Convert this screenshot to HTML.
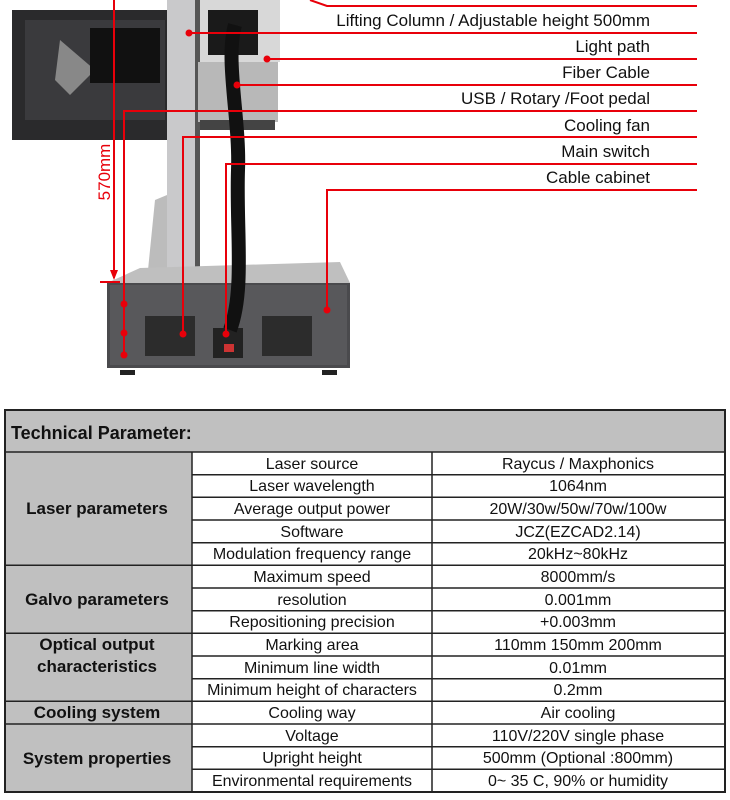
<!DOCTYPE html>
<html><head><style>
html,body{margin:0;padding:0;background:#fff;}
svg{display:block;font-family:"Liberation Sans",Arial,sans-serif;}
</style></head><body>
<svg width="730" height="800" viewBox="0 0 730 800" xmlns="http://www.w3.org/2000/svg">
<!-- machine photo approximation -->
<!-- monitor -->
<rect x="12" y="10" width="155" height="130" fill="#2a2a2c"/>
<rect x="25" y="20" width="140" height="100" fill="#3a3a3d"/>
<path d="M60 40 L95 70 L70 95 L55 80 Z" fill="#888"/>
<rect x="90" y="28" width="70" height="55" fill="#111"/>
<!-- column -->
<rect x="167" y="0" width="33" height="275" fill="#c9c9cb"/>
<rect x="195" y="0" width="5" height="275" fill="#555"/>
<path d="M148 270 L155 200 L167 195 L167 275 Z" fill="#bcbcbc"/>
<rect x="142" y="270" width="75" height="8" fill="#333"/>
<!-- laser head -->
<rect x="200" y="0" width="80" height="62" fill="#d8d8d8"/>
<rect x="208" y="10" width="50" height="45" fill="#1a1a1a"/>
<rect x="198" y="62" width="80" height="60" fill="#b8b8b8"/>
<rect x="200" y="120" width="75" height="10" fill="#444"/>
<!-- base -->
<path d="M107 283 L140 268 L340 262 L350 283 Z" fill="#bfbfbf"/>
<rect x="107" y="283" width="243" height="85" fill="#4a4a4d"/>
<rect x="110" y="285" width="237" height="80" fill="#58585b"/>
<rect x="145" y="316" width="50" height="40" fill="#2c2c2c"/>
<rect x="262" y="316" width="50" height="40" fill="#2c2c2c"/>
<rect x="213" y="328" width="30" height="30" fill="#222"/>
<rect x="224" y="344" width="10" height="8" fill="#c33"/>
<rect x="120" y="370" width="15" height="5" fill="#222"/><rect x="322" y="370" width="15" height="5" fill="#222"/>
<!-- cable -->
<path d="M235 25 C225 60 240 120 238 170 C236 230 245 290 230 330" stroke="#111" stroke-width="14" fill="none"/>
<!-- red annotation lines -->
<g stroke="#e8000a" stroke-width="2" fill="none">
<path d="M310 0 L327 6 L697 6"/>
<path d="M189 33 L697 33"/>
<path d="M267 59 L697 59"/>
<path d="M237 85 L697 85"/>
<path d="M124 355 L124 111 L697 111"/>
<path d="M183 334 L183 137 L697 137"/>
<path d="M226 334 L226 164 L697 164"/>
<path d="M327 310 L327 190 L697 190"/>
<path d="M114 0 L114 278"/>
<path d="M100 282 L120 282"/>
</g>
<path d="M110 270 L114 280 L118 270 Z" fill="#e8000a"/>
<g fill="#e8000a">
<circle cx="189" cy="33" r="3.5"/><circle cx="267" cy="59" r="3.5"/><circle cx="237" cy="85" r="3.5"/>
<circle cx="124" cy="304" r="3.5"/><circle cx="124" cy="333" r="3.5"/><circle cx="124" cy="355" r="3.5"/>
<circle cx="183" cy="334" r="3.5"/><circle cx="226" cy="334" r="3.5"/><circle cx="327" cy="310" r="3.5"/>
</g>
<text x="110" y="172" transform="rotate(-90 110 172)" text-anchor="middle" fill="#e8000a" font-size="17">570mm</text>
<g font-size="17" fill="#111" text-anchor="end">
<text x="650" y="26">Lifting Column / Adjustable height 500mm</text>
<text x="650" y="52">Light path</text>
<text x="650" y="78">Fiber Cable</text>
<text x="650" y="104">USB / Rotary /Foot pedal</text>
<text x="650" y="131">Cooling fan</text>
<text x="650" y="157">Main switch</text>
<text x="650" y="183">Cable cabinet</text>
</g>
<!-- table -->
<rect x="5" y="410" width="720" height="42" fill="#c0c0c0"/>
<rect x="5" y="452" width="187" height="340" fill="#c0c0c0"/>
<text x="11" y="439" font-size="18" font-weight="bold" fill="#111">Technical Parameter:</text>
<g stroke="#222" stroke-width="1.5" fill="none">
<rect x="5" y="410" width="720" height="382" stroke-width="2"/>
<line x1="5" y1="452" x2="725" y2="452"/>
<line x1="192" y1="452" x2="192" y2="792"/>
<line x1="432" y1="452" x2="432" y2="792"/>
<!-- full-width group separators -->
<line x1="5" y1="565.3" x2="725" y2="565.3"/>
<line x1="5" y1="633.3" x2="725" y2="633.3"/>
<line x1="5" y1="701.3" x2="725" y2="701.3"/>
<line x1="5" y1="724" x2="725" y2="724"/>
<!-- inner row lines -->
<path d="M192 474.7H725M192 497.3H725M192 520H725M192 542.7H725M192 588H725M192 610.7H725M192 656H725M192 678.7H725M192 746.7H725M192 769.3H725"/>
</g>
<g font-size="16" fill="#111" text-anchor="middle">
<text x="312" y="469">Laser source</text><text x="578" y="469">Raycus / Maxphonics</text>
<text x="312" y="491">Laser wavelength</text><text x="578" y="491">1064nm</text>
<text x="312" y="514">Average output power</text><text x="578" y="514">20W/30w/50w/70w/100w</text>
<text x="312" y="537">Software</text><text x="578" y="537">JCZ(EZCAD2.14)</text>
<text x="312" y="559">Modulation frequency range</text><text x="578" y="559">20kHz~80kHz</text>
<text x="312" y="582">Maximum speed</text><text x="578" y="582">8000mm/s</text>
<text x="312" y="605">resolution</text><text x="578" y="605">0.001mm</text>
<text x="312" y="627">Repositioning precision</text><text x="578" y="627">+0.003mm</text>
<text x="312" y="650">Marking area</text><text x="578" y="650">110mm 150mm 200mm</text>
<text x="312" y="673">Minimum line width</text><text x="578" y="673">0.01mm</text>
<text x="312" y="695">Minimum height of characters</text><text x="578" y="695">0.2mm</text>
<text x="312" y="718">Cooling way</text><text x="578" y="718">Air cooling</text>
<text x="312" y="741">Voltage</text><text x="578" y="741">110V/220V single phase</text>
<text x="312" y="763">Upright height</text><text x="578" y="763">500mm (Optional :800mm)</text>
<text x="312" y="786">Environmental requirements</text><text x="578" y="786">0~ 35 C, 90% or humidity</text>
</g>
<g font-size="17" font-weight="bold" fill="#111" text-anchor="middle">
<text x="97" y="514">Laser parameters</text>
<text x="97" y="605">Galvo parameters</text>
<text x="97" y="650">Optical output</text>
<text x="97" y="672">characteristics</text>
<text x="97" y="718">Cooling system</text>
<text x="97" y="764">System properties</text>
</g>
</svg>
</body></html>
